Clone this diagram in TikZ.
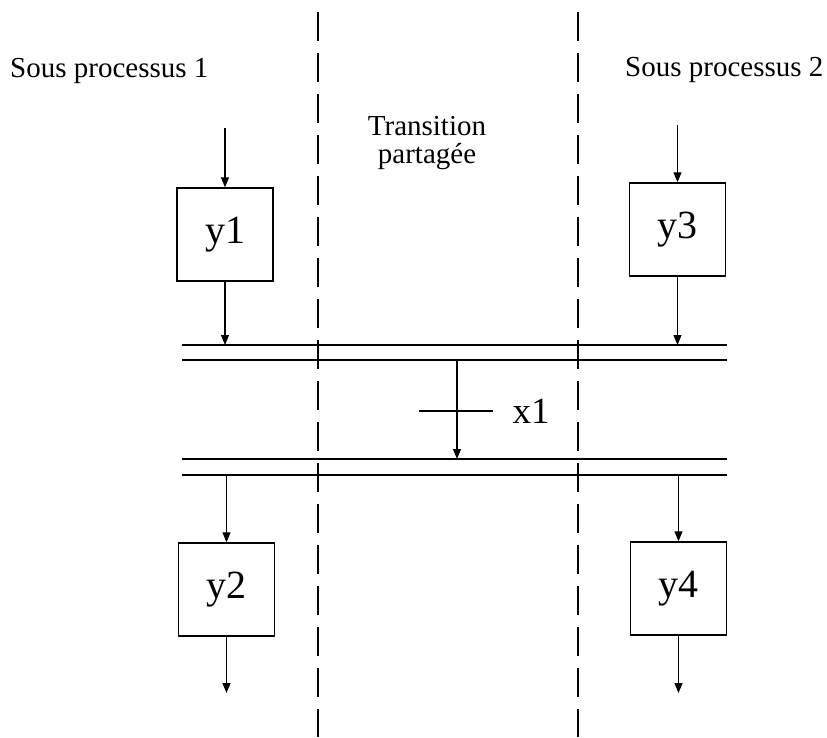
\documentclass[tikz,border=0pt]{standalone}
\usepackage{fontspec}
\setmainfont{Liberation Serif}
\usetikzlibrary{arrows.meta}
\begin{document}
\begin{tikzpicture}[x=1pt,y=-1pt,
  flow/.style={line width=1.1pt,-{Triangle[length=10pt,width=8pt]}},
  place/.style={draw,line width=1.4pt,minimum width=96pt,minimum height=93pt,inner sep=0pt,
    font=\fontsize{40}{44}\selectfont},
  bar/.style={line width=1.3pt},
  lane/.style={line width=1.3pt,dash pattern=on 29pt off 12pt},
  label/.style={font=\fontsize{29}{28}\selectfont,inner sep=0pt}]
\useasboundingbox (0,0) rectangle (827,737);

% lane separators
\coordinate (lt) at (318,12);  \coordinate (lb) at (318,737);
\coordinate (rt) at (578,12);  \coordinate (rb) at (578,737);
\draw[lane] (lt) -- (lb);
\draw[lane] (rt) -- (rb);

% lane titles
\node[label,anchor=base west] (s1) at (10,77) {Sous processus 1};
\node[label,anchor=base west] (s2) at (625,76) {Sous processus 2};
\node[label,align=center,anchor=base] (tp) at (427,163) {Transition\\partagée};

% places
\node[place] (y1) at (225,234.5) {y1};
\node[place] (y3) at (677.5,229.5) {y3};
\node[place] (y2) at (226.5,589.5) {y2};
\node[place] (y4) at (678.5,588.5) {y4};

% double bars of the synchronised transition
\coordinate (b1l) at (182,345); \coordinate (b1r) at (727,345);
\coordinate (b2l) at (182,360); \coordinate (b2r) at (727,360);
\coordinate (b3l) at (182,459); \coordinate (b3r) at (727,459);
\coordinate (b4l) at (182,475); \coordinate (b4r) at (727,475);
\draw[bar] (b1l) -- (b1r);
\draw[bar] (b2l) -- (b2r);
\draw[bar] (b3l) -- (b3r);
\draw[bar] (b4l) -- (b4r);

% inputs and outputs
\coordinate (i1) at (225,128);
\coordinate (i3) at (677.5,125);
\coordinate (o2) at (226.5,693);
\coordinate (o4) at (678.5,693);
\draw[flow] (i1) -- (y1.north);
\draw[flow] (i3) -- (y3.north);
\draw[flow] (y1.south) -- (y1.south |- b1l);
\draw[flow] (y3.south) -- (y3.south |- b1l);
\draw[flow] (y2.north |- b4l) -- (y2.north);
\draw[flow] (y4.north |- b4l) -- (y4.north);
\draw[flow] (y2.south) -- (o2);
\draw[flow] (y4.south) -- (o4);

% transition x1
\coordinate (ta) at (457,360);
\coordinate (tb) at (457,459);
\draw[flow] (ta) -- (tb);
\coordinate (cl) at (419,411); \coordinate (cr) at (493,411);
\draw[bar] (cl) -- (cr);
\node[font=\fontsize{37}{40}\selectfont,inner sep=0pt] (x1) at (531,411) {x1};
\end{tikzpicture}
\end{document}
